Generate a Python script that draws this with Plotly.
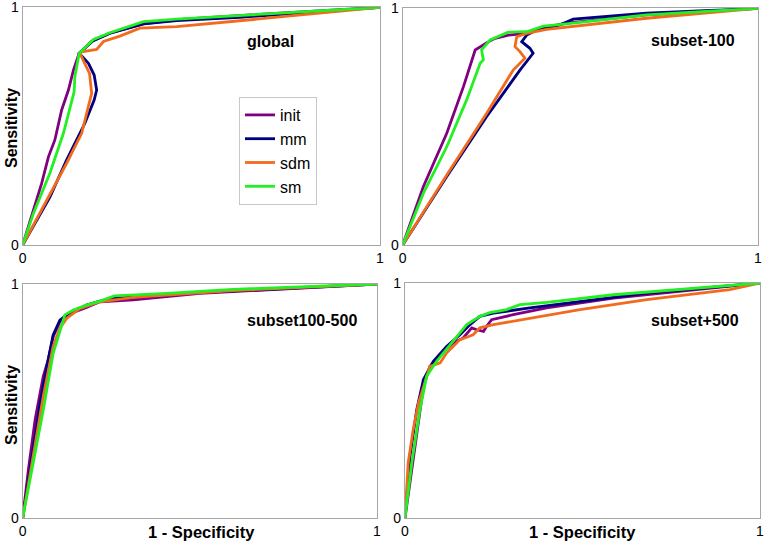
import plotly.graph_objects as go

SERIES = ["init", "mm", "sdm", "sm"]
COLORS = {"init": "#800080", "mm": "#000080", "sdm": "#F26B1D", "sm": "#22F022"}
PANEL_TITLES = ["global", "subset-100", "subset100-500", "subset+500"]
TICKS = [0, 1]
TICK_LABELS = ["0", "1"]

# ---- panel: global ----
global_init_x = [0, 0.025, 0.053, 0.072, 0.090, 0.109, 0.128, 0.142, 0.158, 0.198, 0.244, 0.338, 0.450, 0.636, 1]
global_init_y = [0, 0.119, 0.259, 0.371, 0.442, 0.568, 0.652, 0.736, 0.806, 0.860, 0.891, 0.930, 0.950, 0.968, 1]
global_mm_x = [0, 0.0765, 0.123, 0.174, 0.200, 0.207, 0.200, 0.184, 0.165, 0.158, 0.193, 0.244, 0.338, 0.431, 0.608, 1]
global_mm_y = [0, 0.203, 0.358, 0.512, 0.610, 0.652, 0.715, 0.764, 0.795, 0.806, 0.856, 0.891, 0.930, 0.944, 0.958, 1]
global_sdm_x = [0, 0.067, 0.123, 0.165, 0.190, 0.193, 0.187, 0.174, 0.160, 0.165, 0.207, 0.226, 0.272, 0.328, 0.431, 0.683, 1]
global_sdm_y = [0, 0.189, 0.344, 0.470, 0.610, 0.638, 0.722, 0.764, 0.806, 0.813, 0.823, 0.856, 0.879, 0.912, 0.919, 0.954, 1]
global_sm_x = [0, 0.030, 0.076, 0.114, 0.144, 0.146, 0.158, 0.198, 0.244, 0.338, 0.431, 0.683, 1]
global_sm_y = [0, 0.133, 0.302, 0.470, 0.645, 0.708, 0.806, 0.865, 0.893, 0.940, 0.950, 0.972, 1]

# ---- panel: subset-100 ----
s100_init_x = [0, 0.058, 0.124, 0.171, 0.204, 0.218, 0.237, 0.260, 0.298, 0.349, 0.386, 0.461, 0.686, 1]
s100_init_y = [0, 0.246, 0.472, 0.669, 0.824, 0.838, 0.855, 0.873, 0.887, 0.894, 0.915, 0.937, 0.972, 1]
s100_mm_x = [0, 0.124, 0.236, 0.330, 0.367, 0.358, 0.335, 0.349, 0.377, 0.443, 0.480, 0.686, 1]
s100_mm_y = [0, 0.289, 0.542, 0.739, 0.810, 0.831, 0.859, 0.887, 0.908, 0.930, 0.954, 0.979, 1]
s100_sdm_x = [0, 0.124, 0.236, 0.311, 0.344, 0.330, 0.316, 0.321, 0.349, 0.405, 0.686, 1]
s100_sdm_y = [0, 0.296, 0.556, 0.739, 0.789, 0.817, 0.838, 0.880, 0.894, 0.911, 0.958, 1]
s100_sm_x = [0, 0.058, 0.124, 0.180, 0.218, 0.227, 0.222, 0.246, 0.297, 0.349, 0.396, 0.461, 0.686, 1]
s100_sm_y = [0, 0.218, 0.415, 0.613, 0.768, 0.782, 0.824, 0.866, 0.899, 0.901, 0.925, 0.934, 0.972, 1]

# ---- panel: subset100-500 ----
s100_500_init_x = [0, 0.016, 0.035, 0.049, 0.058, 0.072, 0.086, 0.105, 0.124, 0.180, 0.218, 0.312, 0.500, 1]
s100_500_init_y = [0, 0.206, 0.420, 0.533, 0.605, 0.676, 0.775, 0.839, 0.868, 0.900, 0.924, 0.932, 0.960, 1]
s100_500_mm_x = [0, 0.021, 0.049, 0.068, 0.086, 0.105, 0.124, 0.180, 0.218, 0.256, 0.500, 1]
s100_500_mm_y = [0, 0.220, 0.491, 0.647, 0.782, 0.846, 0.868, 0.910, 0.927, 0.939, 0.963, 1]
s100_500_sdm_x = [0, 0.030, 0.058, 0.086, 0.105, 0.124, 0.162, 0.218, 0.312, 0.594, 1]
s100_500_sdm_y = [0, 0.263, 0.519, 0.733, 0.811, 0.853, 0.896, 0.924, 0.943, 0.972, 1]
s100_500_sm_x = [0, 0.030, 0.058, 0.086, 0.119, 0.143, 0.180, 0.218, 0.259, 0.406, 0.594, 1]
s100_500_sm_y = [0, 0.235, 0.462, 0.704, 0.868, 0.889, 0.910, 0.927, 0.949, 0.960, 0.977, 1]

# ---- panel: subset+500 ----
s500_init_x = [0, 0.019, 0.038, 0.052, 0.070, 0.099, 0.136, 0.164, 0.188, 0.202, 0.221, 0.230, 0.244, 0.305, 0.399, 0.587, 1]
s500_init_y = [0, 0.206, 0.404, 0.560, 0.645, 0.695, 0.745, 0.766, 0.809, 0.801, 0.794, 0.816, 0.844, 0.865, 0.894, 0.936, 1]
s500_mm_x = [0, 0.014, 0.033, 0.052, 0.080, 0.117, 0.155, 0.183, 0.211, 0.249, 0.352, 0.493, 0.681, 1]
s500_mm_y = [0, 0.262, 0.461, 0.589, 0.667, 0.730, 0.780, 0.823, 0.858, 0.872, 0.894, 0.922, 0.957, 1]
s500_sdm_x = [0, 0.009, 0.023, 0.038, 0.070, 0.099, 0.117, 0.155, 0.192, 0.211, 0.249, 0.352, 0.493, 0.681, 0.915, 1]
s500_sdm_y = [0, 0.234, 0.376, 0.489, 0.645, 0.660, 0.702, 0.759, 0.780, 0.809, 0.823, 0.851, 0.887, 0.929, 0.972, 1]
s500_sm_x = [0, 0.019, 0.042, 0.061, 0.089, 0.136, 0.174, 0.211, 0.239, 0.286, 0.324, 0.399, 0.587, 1]
s500_sm_y = [0, 0.234, 0.461, 0.603, 0.667, 0.752, 0.823, 0.858, 0.874, 0.887, 0.908, 0.918, 0.950, 1]

PANEL_DATA = [
    [(global_init_x, global_init_y), (global_mm_x, global_mm_y), (global_sdm_x, global_sdm_y), (global_sm_x, global_sm_y)],
    [(s100_init_x, s100_init_y), (s100_mm_x, s100_mm_y), (s100_sdm_x, s100_sdm_y), (s100_sm_x, s100_sm_y)],
    [(s100_500_init_x, s100_500_init_y), (s100_500_mm_x, s100_500_mm_y), (s100_500_sdm_x, s100_500_sdm_y), (s100_500_sm_x, s100_500_sm_y)],
    [(s500_init_x, s500_init_y), (s500_mm_x, s500_mm_y), (s500_sdm_x, s500_sdm_y), (s500_sm_x, s500_sm_y)],
]

W, H = 765, 544
FONT = "Liberation Sans, Arial, sans-serif"

# plot-area pixel boxes: (left, right, top, bottom)
boxes = [(22.7, 380, 7.3, 245), (402.7, 758, 8.3, 245), (22.7, 377, 284, 518), (405, 760, 283, 518)]

fig = go.Figure()
axis_common = dict(range=[0, 1], tickvals=TICKS, ticktext=TICK_LABELS, showgrid=False, zeroline=False,
                   showline=True, mirror=True, linecolor="#a6a6a6", linewidth=1.3, ticks="",
                   tickfont=dict(family=FONT, size=14, color="black"), fixedrange=True,
                   automargin=False, ticklabeloverflow="allow")

for i, (l, r, t, b) in enumerate(boxes):
    n = "" if i == 0 else str(i + 1)
    fig.update_layout(**{
        f"xaxis{n}": dict(domain=[l / W, r / W], anchor=f"y{n}", **axis_common),
        f"yaxis{n}": dict(domain=[1 - b / H, 1 - t / H], anchor=f"x{n}", **axis_common),
    })
    for s, (xs, ys) in zip(SERIES, PANEL_DATA[i]):
        fig.add_trace(go.Scatter(x=xs, y=ys, mode="lines", name=s, legendgroup=s,
                                 showlegend=(i == 0), line=dict(color=COLORS[s], width=2.8),
                                 xaxis=f"x{n}", yaxis=f"y{n}", hoverinfo="skip"))

annotations = []
title_pos = [(270, 42), (693, 41), (302, 320), (695, 320)]
for (px, py), txt in zip(title_pos, PANEL_TITLES):
    annotations.append(dict(x=px / W, y=1 - py / H, xref="paper", yref="paper", text=f"<b>{txt}</b>",
                            showarrow=False, font=dict(family=FONT, size=16, color="black"),
                            xanchor="center", yanchor="middle"))
for py in (128, 405):
    annotations.append(dict(x=11 / W, y=1 - py / H, xref="paper", yref="paper", text="<b>Sensitivity</b>",
                            textangle=-90, showarrow=False, font=dict(family=FONT, size=16, color="black"),
                            xanchor="center", yanchor="middle"))
for px in (201, 582):
    annotations.append(dict(x=px / W, y=1 - 532 / H, xref="paper", yref="paper", text="<b>1 - Specificity</b>",
                            showarrow=False, font=dict(family=FONT, size=16.5, color="black"),
                            xanchor="center", yanchor="middle"))

fig.update_layout(
    width=W, height=H, margin=dict(l=0, r=0, t=0, b=0, autoexpand=False),
    paper_bgcolor="white", plot_bgcolor="white",
    annotations=annotations,
    legend=dict(x=239 / W, y=1 - 97 / H, xanchor="left", yanchor="top",
                bordercolor="#c8c8c8", borderwidth=1, bgcolor="white",
                font=dict(family=FONT, size=16, color="black"), tracegroupgap=0,
                itemwidth=30),
    showlegend=True,
)

fig.write_html("out.html", config={"displayModeBar": False},
               post_script="document.body.style.margin='0px';document.body.style.overflow='hidden';")
